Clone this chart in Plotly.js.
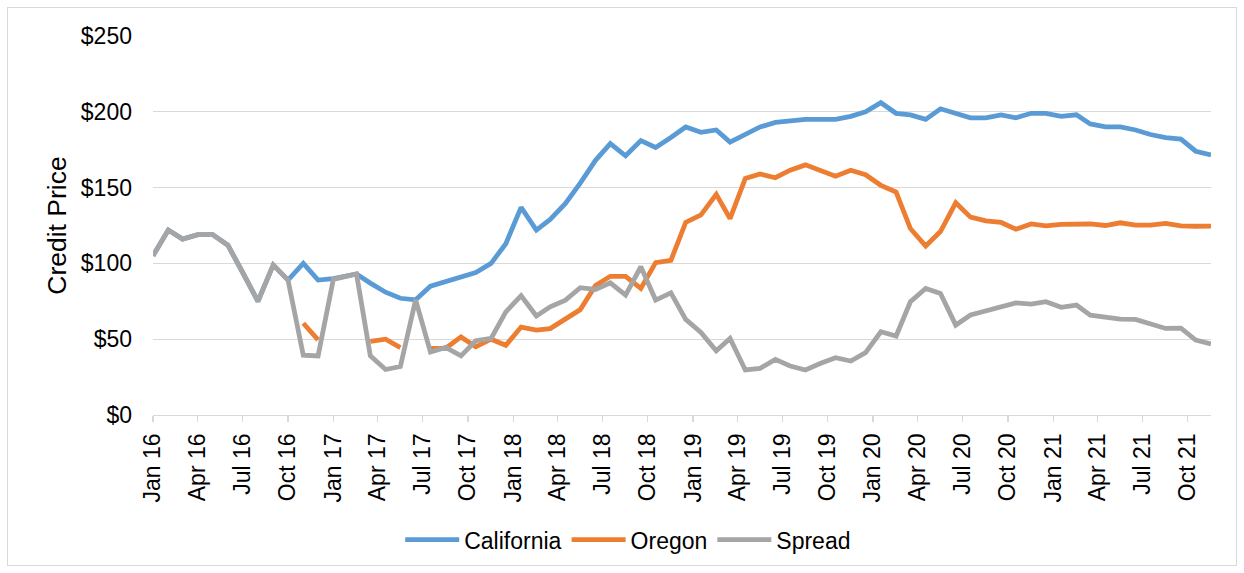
<!DOCTYPE html>
<html>
<head>
<meta charset="utf-8">
<script src="https://cdn.plot.ly/plotly-3.0.1.min.js"></script>
<style>
  html, body { margin: 0; padding: 0; background: #ffffff; }
  #frame { position: absolute; left: 7px; top: 7px; width: 1230px; height: 559px; border: 1px solid #d9d9d9; box-sizing: border-box; }
  #chart { position: absolute; left: 0; top: 0; width: 1244px; height: 573px; }
</style>
</head>
<body>
<div id="frame"></div>
<div id="chart"></div>
<script>
const dates = [
  "2016-01-01","2016-02-01","2016-03-01","2016-04-01","2016-05-01","2016-06-01",
  "2016-07-01","2016-08-01","2016-09-01","2016-10-01","2016-11-01","2016-12-01",
  "2017-01-01","2017-02-17","2017-03-17","2017-04-17","2017-05-17","2017-06-17",
  "2017-07-17","2017-08-17","2017-09-17","2017-10-17","2017-11-17","2017-12-17",
  "2018-01-17","2018-02-17","2018-03-17","2018-04-17","2018-05-17","2018-06-17",
  "2018-07-17","2018-08-17","2018-09-17","2018-10-17","2018-11-17","2018-12-17",
  "2019-01-17","2019-02-17","2019-03-17","2019-04-17","2019-05-17","2019-06-17",
  "2019-07-17","2019-08-17","2019-09-17","2019-10-17","2019-11-17","2019-12-17",
  "2020-01-17","2020-02-17","2020-03-17","2020-04-17","2020-05-17","2020-06-17",
  "2020-07-17","2020-08-17","2020-09-17","2020-10-17","2020-11-17","2020-12-17",
  "2021-01-17","2021-02-17","2021-03-17","2021-04-17","2021-05-17","2021-06-17",
  "2021-07-17","2021-08-17","2021-09-17","2021-10-17","2021-11-17"
];

const california = [
  105, 122, 116, 119, 119, 112, 94, 75, 99, 89, 100, 89,
  90, 93, 87, 81, 77, 76, 85, 88, 91, 94, 100, 113,
  137, 122, 129, 139.5, 153, 168, 179, 171, 181, 176.5, 183, 190,
  186.5, 188, 180, 185, 190, 193, 194, 195, 195, 195, 197, 200,
  206, 199, 198, 195, 202, 199, 196, 196, 198, 196, 199, 199,
  197, 198, 192, 190, 190, 188, 185, 183, 182, 174, 171.5
];

const oregon = [
  null, null, null, null, null, null, null, null, null, null, 60.5, 49.5,
  null, null, 48.5, 50, 44.5, null, 44, 44, 51.5, 45, 50, 46,
  58, 56, 57, 63.5, 69.5, 85.5, 91.5, 91.5, 83.5, 100.5, 102, 127,
  132, 145.5, 129.5, 156, 159, 156.5, 161.5, 165, 161, 157.5, 161.5, 158.5,
  151.5, 147, 123, 111.5, 121, 140, 130.5, 128, 127, 122.5, 126, 124.7,
  125.7, 125.7, 126, 125, 126.8, 125.3, 125.3, 126.4, 124.7, 124.5, 124.6
];

const spread = [
  105, 122, 116, 119, 119, 112, 94, 75, 99, 89, 39.5, 39,
  89.5, 93, 39, 30, 32, 76, 41.5, 44.6, 39, 49, 50.5, 68,
  78.7, 65.3, 71.4, 75.8, 84, 82.8, 87.2, 79.1, 97.8, 75.8, 80.6, 63.1,
  54.5, 42.3, 50.5, 29.7, 30.8, 36.7, 32.3, 29.7, 34.1, 37.8, 35.6, 41.1,
  54.9, 52.1, 74.7, 83.5, 80.2, 59.3, 66, 68.8, 71.9, 74, 73.2, 74.7,
  71, 72.5, 65.9, 64.8, 63.3, 63.1, 60, 57.1, 57.3, 49.4, 46.8
];

const seriesNames = ["California", "Oregon", "Spread"];
const seriesColors = ["#5b9bd5", "#ed7d31", "#a5a5a5"];
const seriesValues = [california, oregon, spread];

const FONT = "Liberation Sans, Arial, sans-serif";

const traces = seriesNames.map((name, i) => ({
  type: "scatter",
  mode: "lines",
  name: name,
  x: dates,
  y: seriesValues[i],
  connectgaps: false,
  line: { color: seriesColors[i], width: 4.8, shape: "linear" },
  hoverinfo: "x+y+name"
}));

const layout = {
  width: 1244,
  height: 573,
  margin: { l: 153, r: 33, t: 36, b: 158 },
  paper_bgcolor: "rgba(0,0,0,0)",
  plot_bgcolor: "rgba(0,0,0,0)",
  font: { family: FONT, size: 23, color: "#000000" },
  showlegend: true,
  legend: {
    orientation: "h",
    xref: "container",
    yref: "container",
    x: 0.505,
    xanchor: "center",
    y: 0.058,
    yanchor: "middle",
    itemwidth: 54,
    font: { family: FONT, size: 23, color: "#000000" },
    bgcolor: "rgba(0,0,0,0)"
  },
  xaxis: {
    type: "date",
    range: ["2016-01-01", "2021-11-17"],
    tick0: "2016-01-01",
    dtick: "M3",
    tickformat: "%b %y",
    tickangle: -90,
    ticks: "outside",
    ticklen: 6,
    tickwidth: 1.3,
    tickcolor: "#d9d9d9",
    showline: true,
    linecolor: "#d9d9d9",
    linewidth: 1.3,
    showgrid: false,
    zeroline: false,
    ticklabelstandoff: 2,
    tickfont: { family: FONT, size: 23, color: "#000000" },
    fixedrange: true
  },
  yaxis: {
    range: [0, 250],
    dtick: 50,
    tick0: 0,
    tickprefix: "$",
    ticks: "",
    showline: false,
    showgrid: true,
    gridcolor: "#d9d9d9",
    gridwidth: 1.3,
    zeroline: false,
    ticklabelstandoff: 20,
    tickfont: { family: FONT, size: 23, color: "#000000" },
    title: { text: "Credit Price", font: { family: FONT, size: 26.5, color: "#000000" }, standoff: 6 },
    fixedrange: true
  }
};

Plotly.newPlot("chart", traces, layout, { displayModeBar: false, staticPlot: true });
</script>
</body>
</html>
